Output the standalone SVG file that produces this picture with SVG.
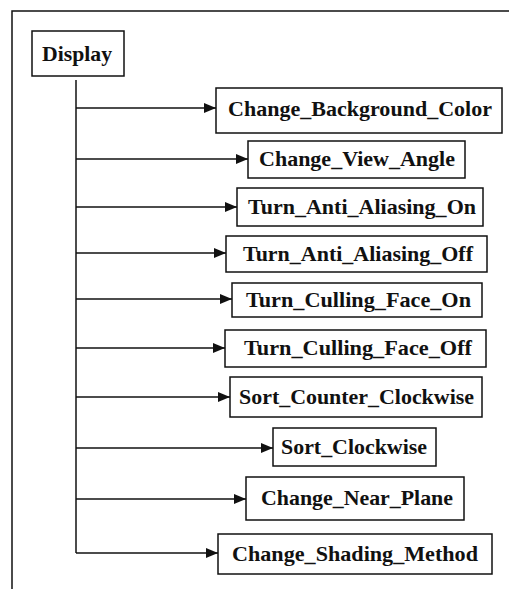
<svg xmlns="http://www.w3.org/2000/svg" width="509" height="589" viewBox="0 0 509 589">
<style>
.box{fill:#fff;stroke:#111;stroke-width:1.5}
.lbl{font-family:"Liberation Serif","Times New Roman",serif;font-weight:bold;font-size:21px;fill:#111;text-anchor:middle}
.ln{fill:none;stroke:#111;stroke-width:1.5}
</style>
<defs>
<marker id="ah" markerWidth="12" markerHeight="10" refX="12" refY="5" orient="auto" markerUnits="userSpaceOnUse">
<path d="M0,0 L12,5 L0,10 Z" fill="#111"/>
</marker>
</defs>
<rect width="509" height="589" fill="#fff"/>
<g id="frame">
<path class="ln" d="M12,589 L12,11 L509,11"/>
</g>
<g id="connectors">
<path class="ln" d="M76,80 L76,553"/>
<path class="ln" d="M76,108 L216,108" marker-end="url(#ah)"/>
<path class="ln" d="M76,159 L248,159" marker-end="url(#ah)"/>
<path class="ln" d="M76,207 L237,207" marker-end="url(#ah)"/>
<path class="ln" d="M76,253 L226,253" marker-end="url(#ah)"/>
<path class="ln" d="M76,299 L232,299" marker-end="url(#ah)"/>
<path class="ln" d="M76,348 L225,348" marker-end="url(#ah)"/>
<path class="ln" d="M76,397 L230,397" marker-end="url(#ah)"/>
<path class="ln" d="M76,448 L273,448" marker-end="url(#ah)"/>
<path class="ln" d="M76,499 L246,499" marker-end="url(#ah)"/>
<path class="ln" d="M76,553 L218,553" marker-end="url(#ah)"/>
</g>
<g id="display"><rect class="box" x="32" y="31" width="92" height="45"/><text class="lbl" x="77" y="61" textLength="70" lengthAdjust="spacingAndGlyphs">Display</text></g>
<g id="n1"><rect class="box" x="216" y="88" width="286" height="45"/><text class="lbl" x="360" y="116" textLength="264" lengthAdjust="spacingAndGlyphs">Change_Background_Color</text></g>
<g id="n2"><rect class="box" x="248" y="141" width="217" height="37"/><text class="lbl" x="357" y="166" textLength="196" lengthAdjust="spacingAndGlyphs">Change_View_Angle</text></g>
<g id="n3"><rect class="box" x="237" y="188" width="246" height="38"/><text class="lbl" x="362" y="213.5" textLength="228" lengthAdjust="spacingAndGlyphs">Turn_Anti_Aliasing_On</text></g>
<g id="n4"><rect class="box" x="226" y="236" width="261" height="36"/><text class="lbl" x="358" y="260.5" textLength="230" lengthAdjust="spacingAndGlyphs">Turn_Anti_Aliasing_Off</text></g>
<g id="n5"><rect class="box" x="232" y="283" width="250" height="34"/><text class="lbl" x="358.5" y="306.5" textLength="225" lengthAdjust="spacingAndGlyphs">Turn_Culling_Face_On</text></g>
<g id="n6"><rect class="box" x="225" y="330" width="261" height="37"/><text class="lbl" x="358" y="355" textLength="228" lengthAdjust="spacingAndGlyphs">Turn_Culling_Face_Off</text></g>
<g id="n7"><rect class="box" x="230" y="377" width="252" height="40"/><text class="lbl" x="356.5" y="403.5" textLength="235" lengthAdjust="spacingAndGlyphs">Sort_Counter_Clockwise</text></g>
<g id="n8"><rect class="box" x="273" y="428" width="163" height="38"/><text class="lbl" x="354" y="453.5" textLength="146" lengthAdjust="spacingAndGlyphs">Sort_Clockwise</text></g>
<g id="n9"><rect class="box" x="246" y="477" width="218" height="43"/><text class="lbl" x="357" y="505" textLength="192" lengthAdjust="spacingAndGlyphs">Change_Near_Plane</text></g>
<g id="n10"><rect class="box" x="218" y="534" width="274" height="40"/><text class="lbl" x="355" y="560.5" textLength="246" lengthAdjust="spacingAndGlyphs">Change_Shading_Method</text></g>
</svg>
